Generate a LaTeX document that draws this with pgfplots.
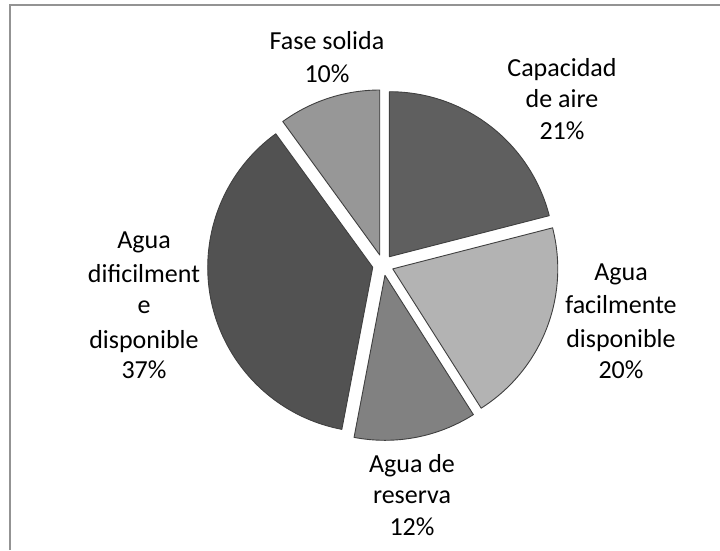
\documentclass[border=0pt]{standalone}
\usepackage{pgfplots}
\pgfplotsset{compat=1.18}
\usepackage{fontspec}
\setmainfont{Carlito}
\definecolor{sliceA}{HTML}{5F5F5F}
\definecolor{sliceB}{HTML}{B3B3B3}
\definecolor{sliceC}{HTML}{818181}
\definecolor{sliceD}{HTML}{525252}
\definecolor{sliceE}{HTML}{979797}
\definecolor{edgec}{HTML}{404040}
\definecolor{framec}{HTML}{939393}
% #1 cumulative start (%), #2 value (%), #3 colour
\newcommand\pieslice[3]{%
  \pgfmathsetmacro\sa{90-3.6*#1}%
  \pgfmathsetmacro\ea{90-3.6*(#1+#2)}%
  \pgfmathsetmacro\ma{(\sa+\ea)/2}%
  \pgfmathsetmacro\cx{383+10.5*cos(\ma)}%
  \pgfmathsetmacro\cy{285+10.5*sin(\ma)}%
  \edef\temp{\noexpand\filldraw[fill=#3, draw=edgec, line width=0.9pt, line join=round]
    (axis cs:\cx,\cy) -- ++(\sa:165pt) arc[start angle=\sa, end angle=\ea, radius=165pt] -- cycle;}%
  \temp
}
\newcommand\lab[3]{\node[anchor=base, inner sep=0pt, font=\fontsize{26}{33}\selectfont] at (axis cs:#1,#2) {#3};}
\begin{document}
\begin{tikzpicture}
\begin{axis}[x=1pt, y=1pt, xmin=0, xmax=720, ymin=0, ymax=550,
  hide axis, clip=false, scale only axis]
  \coordinate (BL) at (axis cs:0,0);
  \coordinate (TR) at (axis cs:720,550);
  \draw[framec, line width=2pt] (axis cs:10,0) -- (axis cs:10,545) -- (axis cs:720,545);
  \pieslice{0}{21}{sliceA}
  \pieslice{21}{20}{sliceB}
  \pieslice{41}{12}{sliceC}
  \pieslice{53}{37}{sliceD}
  \pieslice{90}{10}{sliceE}
  % labels (x, 550 - baseline)
  \lab{327}{500}{Fase solida}
  \lab{327}{467}{10\%}
  \lab{562}{473}{Capacidad}
  \lab{562}{442}{de aire}
  \lab{562}{410}{21\%}
  \lab{621}{270}{Agua}
  \lab{621}{237}{facilmente}
  \lab{621}{203}{disponible}
  \lab{621}{172}{20\%}
  \lab{412}{78}{Agua de}
  \lab{412}{47}{reserva}
  \lab{412}{15}{12\%}
  \lab{144}{302}{Agua}
  \lab{144}{268}{dificilment}
  \lab{144}{237}{e}
  \lab{144}{202}{disponible}
  \lab{144}{172}{37\%}
\end{axis}
\pgfresetboundingbox
\path[use as bounding box] (BL) rectangle (TR);
\end{tikzpicture}
\end{document}
